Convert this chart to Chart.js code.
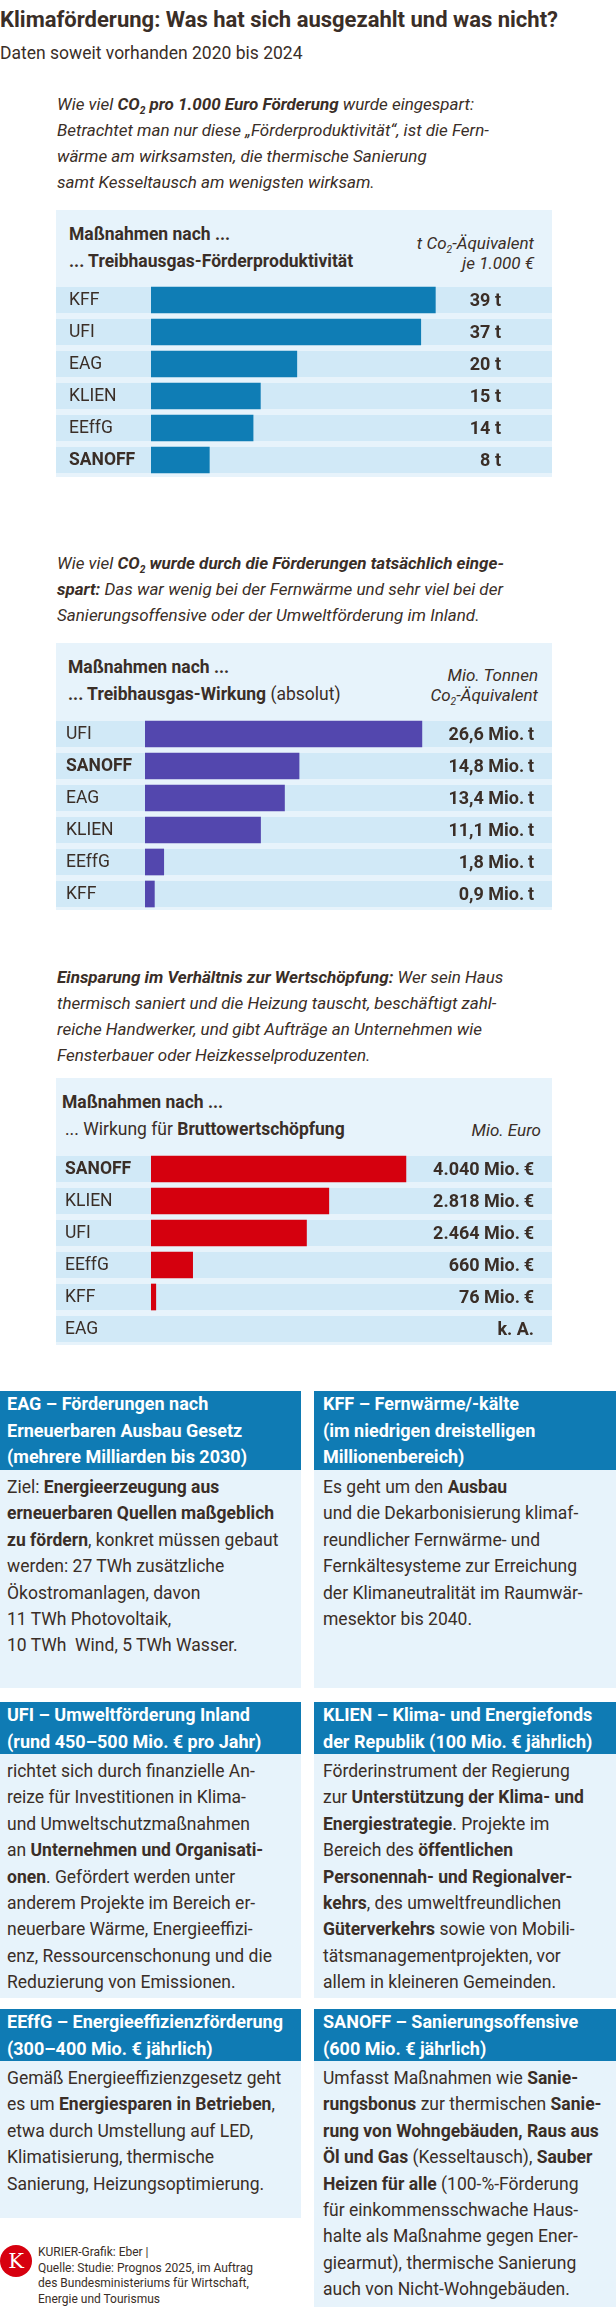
<!DOCTYPE html>
<html lang="de">
<head>
<meta charset="utf-8">
<title>Klimaförderung</title>
<script src="https://cdn.jsdelivr.net/npm/chart.js@4.4.1/dist/chart.umd.min.js"></script>
<style>
  html, body { margin: 0; padding: 0; background: #fff; }
  #page {
    position: relative; width: 616px; height: 2320px; overflow: hidden;
    font-family: Roboto, "Noto Sans", sans-serif; color: #3a2e27;
  }
  .abs { position: absolute; white-space: nowrap; }
  .title { left: 0; top: 6px; font-size: 22px; line-height: 28px; font-weight: bold; }
  .sub { left: 0; top: 41px; font-size: 17.5px; line-height: 24px; }
  .intro { left: 57px; font-size: 17px; line-height: 26px; font-style: italic; }
  sub { font-size: 0.6em; vertical-align: -0.35em; line-height: 0; }

  .panel { position: absolute; left: 56px; width: 496px; height: 267px; background: #e7f3fb; }
  .ph { position: absolute; font-size: 17.5px; line-height: 27px; white-space: nowrap; }
  .pu { position: absolute; font-size: 17px; line-height: 20px; font-style: italic; text-align: right; white-space: nowrap; }
  .cv { position: absolute; left: 0; width: 496px; height: 192px; }

  .box { position: absolute; background: #e7f3fb; }
  .box .bh { background: #0f7bb4; color: #fff; font-weight: bold; font-size: 18px; line-height: 26.5px; white-space: nowrap; }
  .box .bb { font-size: 17.5px; line-height: 26.4px; padding-top: 4px; white-space: nowrap; }
  .box.l { left: 0; width: 301px; }
  .box.r { left: 314px; width: 302px; }
  .box.l .bh, .box.l .bb { padding-left: 7px; }
  .box.r .bh, .box.r .bb { padding-left: 9px; }

  .logo {
    position: absolute; left: 0; top: 2245px; width: 32px; height: 32px; border-radius: 50%;
    background: #d7000f; color: #fff; font-family: "DejaVu Serif", "Liberation Serif", serif;
    font-size: 21px; line-height: 32px; text-align: center;
  }
  .foot { left: 38px; top: 2245px; font-size: 12px; line-height: 15.5px; }
</style>
</head>
<body>
<div id="page">

  <div class="abs title">Klimaförderung: Was hat sich ausgezahlt und was nicht?</div>
  <div class="abs sub">Daten soweit vorhanden 2020 bis 2024</div>

  <!-- chart 1 -->
  <div class="abs intro" style="top:91px">Wie viel <b>CO<sub>2</sub> pro 1.000 Euro Förderung</b> wurde eingespart:<br>Betrachtet man nur diese „Förderproduktivität“, ist die Fern-<br>wärme am wirksamsten, die thermische Sanierung<br>samt Kesseltausch am wenigsten wirksam.</div>
  <div class="panel" style="top:210px">
    <div class="ph" style="left:13px;top:11px"><b>Maßnahmen nach ...</b><br><b>... Treibhausgas-Förderproduktivität</b></div>
    <div class="pu" style="right:18px;top:23px">t Co<sub>2</sub>-Äquivalent<br>je 1.000 €</div>
    <div class="cv" style="top:74px"><canvas id="chart1"></canvas></div>
  </div>

  <!-- chart 2 -->
  <div class="abs intro" style="top:550px">Wie viel <b>CO<sub>2</sub> wurde durch die Förderungen tatsächlich einge-<br>spart:</b> Das war wenig bei der Fernwärme und sehr viel bei der<br>Sanierungsoffensive oder der Umweltförderung im Inland.</div>
  <div class="panel" style="top:643px">
    <div class="ph" style="left:12px;top:11px"><b>Maßnahmen nach ...</b><br><b>... Treibhausgas-Wirkung</b> (absolut)</div>
    <div class="pu" style="right:14px;top:22px">Mio. Tonnen<br>Co<sub>2</sub>-Äquivalent</div>
    <div class="cv" style="top:75px"><canvas id="chart2"></canvas></div>
  </div>

  <!-- chart 3 -->
  <div class="abs intro" style="top:964px"><b>Einsparung im Verhältnis zur Wertschöpfung:</b> Wer sein Haus<br>thermisch saniert und die Heizung tauscht, beschäftigt zahl-<br>reiche Handwerker, und gibt Aufträge an Unternehmen wie<br>Fensterbauer oder Heizkesselproduzenten.</div>
  <div class="panel" style="top:1078px">
    <div class="ph" style="left:6px;top:11px"><b>Maßnahmen nach ...</b><br><span style="margin-left:3px">... Wirkung für <b>Bruttowertschöpfung</b></span></div>
    <div class="pu" style="right:11px;top:42px">Mio. Euro</div>
    <div class="cv" style="top:75px"><canvas id="chart3"></canvas></div>
  </div>

  <!-- info boxes -->
  <div class="box l" style="top:1391px;height:297px">
    <div class="bh" style="height:79px">EAG – Förderungen nach<br>Erneuerbaren Ausbau Gesetz<br>(mehrere Milliarden bis 2030)</div>
    <div class="bb">Ziel: <b>Energieerzeugung aus<br>erneuerbaren Quellen maßgeblich<br>zu fördern</b>, konkret müssen gebaut<br>werden: 27 TWh zusätzliche<br>Ökostromanlagen, davon<br>11 TWh Photovoltaik,<br>10 TWh&nbsp; Wind, 5 TWh Wasser.</div>
  </div>
  <div class="box r" style="top:1391px;height:297px">
    <div class="bh" style="height:79px">KFF – Fernwärme/-kälte<br>(im niedrigen dreistelligen<br>Millionenbereich)</div>
    <div class="bb">Es geht um den <b>Ausbau</b><br>und die Dekarbonisierung klimaf-<br>reundlicher Fernwärme- und<br>Fernkältesysteme zur Erreichung<br>der Klimaneutralität im Raumwär-<br>mesektor bis 2040.</div>
  </div>

  <div class="box l" style="top:1702px;height:296px">
    <div class="bh" style="height:52px">UFI – Umweltförderung Inland<br>(rund 450–500 Mio. € pro Jahr)</div>
    <div class="bb">richtet sich durch finanzielle An-<br>reize für Investitionen in Klima-<br>und Umweltschutzmaßnahmen<br>an <b>Unternehmen und Organisati-<br>onen</b>. Gefördert werden unter<br>anderem Projekte im Bereich er-<br>neuerbare Wärme, Energieeffizi-<br>enz, Ressourcenschonung und die<br>Reduzierung von Emissionen.</div>
  </div>
  <div class="box r" style="top:1702px;height:296px">
    <div class="bh" style="height:52px">KLIEN – Klima- und Energiefonds<br>der Republik (100 Mio. € jährlich)</div>
    <div class="bb">Förderinstrument der Regierung<br>zur <b>Unterstützung der Klima- und<br>Energiestrategie</b>. Projekte im<br>Bereich des <b>öffentlichen<br>Personennah- und Regionalver-<br>kehrs</b>, des umweltfreundlichen<br><b>Güterverkehrs</b> sowie von Mobili-<br>tätsmanagementprojekten, vor<br>allem in kleineren Gemeinden.</div>
  </div>

  <div class="box l" style="top:2009px;height:209px">
    <div class="bh" style="height:52px">EEffG – Energieeffizienzförderung<br>(300–400 Mio. € jährlich)</div>
    <div class="bb">Gemäß Energieeffizienzgesetz geht<br>es um <b>Energiesparen in Betrieben</b>,<br>etwa durch Umstellung auf LED,<br>Klimatisierung, thermische<br>Sanierung, Heizungsoptimierung.</div>
  </div>
  <div class="box r" style="top:2009px;height:298px">
    <div class="bh" style="height:52px">SANOFF – Sanierungsoffensive<br>(600 Mio. € jährlich)</div>
    <div class="bb">Umfasst Maßnahmen wie <b>Sanie-<br>rungsbonus</b> zur thermischen <b>Sanie-<br>rung von Wohngebäuden, Raus aus<br>Öl und Gas</b> (Kesseltausch), <b>Sauber<br>Heizen für alle</b> (100-%-Förderung<br>für einkommensschwache Haus-<br>halte als Maßnahme gegen Ener-<br>giearmut), thermische Sanierung<br>auch von Nicht-Wohngebäuden.</div>
  </div>

  <div class="logo">K</div>
  <div class="abs foot">KURIER-Grafik: Eber |<br>Quelle: Studie: Prognos 2025, im Auftrag<br>des Bundesministeriums für Wirtschaft,<br>Energie und Tourismus</div>
</div>

<script>
// data
const cats1 = ["KFF", "UFI", "EAG", "KLIEN", "EEffG", "SANOFF"];
const vals1 = [39, 37, 20, 15, 14, 8];

const cats2 = ["UFI", "SANOFF", "EAG", "KLIEN", "EEffG", "KFF"];
const vals2 = [26.6, 14.8, 13.4, 11.1, 1.8, 0.9];

const cats3 = ["SANOFF", "KLIEN", "UFI", "EEffG", "KFF", "EAG"];
const vals3 = [4040, 2818, 2464, 660, 76, null];

const boldCat = "SANOFF";

document.addEventListener("DOMContentLoaded", () => {

  /* =========================
     ROW STRIPES + LABELS
  ========================= */
  const rowPlugin = {
    id: "rows",
    beforeDatasetsDraw(chart, args, opts) {
      const { ctx } = chart;
      const y = chart.scales.y;
      ctx.save();
      ctx.fillStyle = opts.stripe;
      chart.data.labels.forEach((lab, i) => {
        const yc = y.getPixelForValue(i);
        ctx.fillRect(0, yc - 13, chart.width, 26);
      });
      ctx.restore();
    },
    afterDatasetsDraw(chart, args, opts) {
      const { ctx } = chart;
      const y = chart.scales.y;
      const data = chart.data.datasets[0].data;
      ctx.save();
      ctx.fillStyle = "#3a2e27";
      ctx.textBaseline = "middle";
      chart.data.labels.forEach((lab, i) => {
        const yc = y.getPixelForValue(i) + 1;
        ctx.textAlign = "left";
        ctx.font = (lab === boldCat ? "bold " : "") + "17.5px Roboto";
        ctx.fillText(lab, opts.labelX, yc);
        ctx.textAlign = "right";
        ctx.font = "bold 18px Roboto";
        ctx.fillText(opts.format(data[i]), opts.valueX, yc);
      });
      ctx.restore();
    }
  };

  function barChart(id, cats, vals, color, max, left, labelX, valueX, format) {
    const el = document.getElementById(id);
    if (!el) return;
    new Chart(el, {
      type: "bar",
      data: {
        labels: cats,
        datasets: [{
          data: vals,
          backgroundColor: color,
          borderWidth: 0,
          barThickness: 26
        }]
      },
      options: {
        indexAxis: "y",
        responsive: true,
        maintainAspectRatio: false,
        animation: false,
        layout: { padding: { left: left, right: 0, top: 0, bottom: 0 } },
        scales: {
          x: { display: false, min: 0, max: max },
          y: { display: false }
        },
        plugins: {
          legend: { display: false },
          tooltip: { enabled: false },
          rows: { stripe: "#d1e9f7", labelX, valueX, format }
        }
      },
      plugins: [rowPlugin]
    });
  }

  /* =========================
     THE THREE CHARTS
  ========================= */
  barChart("chart1", cats1, vals1, "#0f7db5", 55, 95, 13, 445,
    v => v + " t");

  barChart("chart2", cats2, vals2, "#5347ae", 39.1, 89, 10, 478,
    v => v.toLocaleString("de-DE", { minimumFractionDigits: 1 }) + " Mio.\u2009t");

  barChart("chart3", cats3, vals3, "#d5000e", 6355, 95, 9, 478,
    v => v == null ? "k. A." : v.toLocaleString("de-DE") + " Mio.\u2009€");

});
</script>
</body>
</html>
